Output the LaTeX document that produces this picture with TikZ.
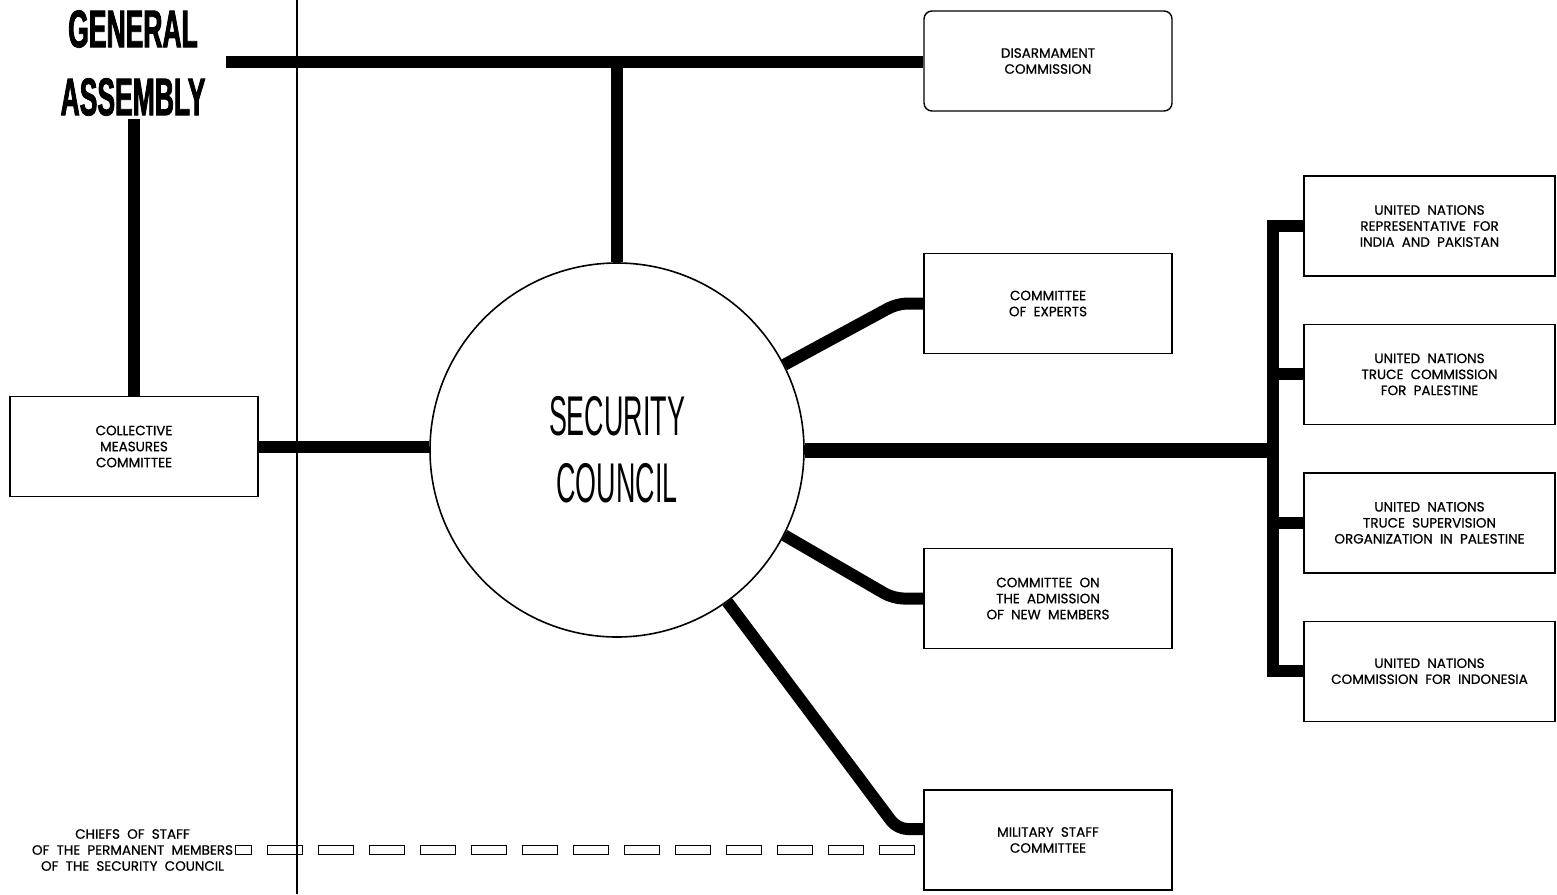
\documentclass[tikz,border=0pt]{standalone}
\usepackage{fontspec}
\setmainfont{Poppins}[FakeBold=0.7]
\newfontfamily\titlefont{Liberation Sans}[UprightFont=* Bold,FakeStretch=0.5,FakeBold=1.5]
\newfontfamily\councilfont{Liberation Sans}[FakeStretch=0.48]
\usetikzlibrary{positioning}
\tikzset{
    unit/.style={draw,line width=1.4pt,minimum width=248pt,minimum height=100pt,align=center,inner sep=2pt,font=\fontsize{13.5}{16}\selectfont},
    unitwide/.style={unit,minimum width=251pt},
    link/.style={line width=12pt},
    trunk/.style={line width=15pt},
    divider/.style={line width=1.5pt},
    liaison/.style={line width=1.4pt,double=white,double distance=7.5pt,line cap=rect,dash pattern=on 26pt off 25pt,dash phase=19pt}
}

\begin{document}
\begin{tikzpicture}[x=1pt,y=-1pt]
    \useasboundingbox (0,0) rectangle (1557,894);

    \node[font=\titlefont\fontsize{53}{68}\selectfont,align=center] (ga) at (133,63) {GENERAL\\ASSEMBLY};
    \node[circle,draw,line width=1.6pt,minimum size=374pt,align=center,font=\councilfont\fontsize{56}{67}\selectfont] (council) at (617,450) {SECURITY\\COUNCIL};

    \node[unit] (collective) at (134,446.5) {COLLECTIVE\\MEASURES\\COMMITTEE};
    \node[unit,rounded corners=8pt] (disarm) at (1048,61) {DISARMAMENT\\COMMISSION};
    \node[unit] (experts) at (1048,303.5) {COMMITTEE\\OF\ \ EXPERTS};
    \node[unit] (admission) at (1048,598.5) {COMMITTEE\ \ ON\\THE\ \ ADMISSION\\OF\ \ NEW\ \ MEMBERS};
    \node[unit] (military) at (1048,840) {MILITARY\ \ STAFF\\COMMITTEE};

    \node[unitwide] (un1) at (1429.5,226) {UNITED\ \ NATIONS\\REPRESENTATIVE\ \ FOR\\INDIA\ \ AND\ \ PAKISTAN};
    \node[unitwide] (un2) [below=47pt of un1] {UNITED\ \ NATIONS\\TRUCE\ \ COMMISSION\\FOR\ \ PALESTINE};
    \node[unitwide] (un3) [below=47pt of un2] {UNITED\ \ NATIONS\\TRUCE\ \ SUPERVISION\\ORGANIZATION\ \ IN\ \ PALESTINE};
    \node[unitwide] (un4) [below=47pt of un3] {UNITED\ \ NATIONS\\COMMISSION\ \ FOR\ \ INDONESIA};

    \node[align=center,anchor=east,inner sep=2pt,outer sep=5pt,font=\fontsize{13.5}{16}\selectfont] (chiefs) at (240,850) {CHIEFS\ \ OF\ \ STAFF\\OF\ \ THE\ \ PERMANENT\ \ MEMBERS\\OF\ \ THE\ \ SECURITY\ \ COUNCIL};

    \coordinate (galine) at (226,62);
    \coordinate (bus) at (1273,450);

    \draw[link] (galine) -- (galine -| disarm.west);
    \draw[link] (council.north) -- (council.north |- galine);
    \draw[link] (collective.north) -- (collective.north |- ga.south);
    \draw[link] (collective.east) -- (collective.east -| council.west);

    \draw[link,rounded corners=10pt] (council.27) -- ([xshift=-26pt]experts.west) -- (experts.west);
    \draw[link,rounded corners=10pt] (council.-27) -- ([xshift=-30pt]admission.west) -- (admission.west);
    \draw[link,rounded corners=10pt] (council.-54) -- ([xshift=-26pt,yshift=11pt]military.west) -- ([yshift=11pt]military.west);

    \draw[trunk] (council.east) -- (bus);
    \draw[link,line join=miter] (un1.west) -- (un1.west -| bus) -- (un4.west -| bus) -- (un4.west);
    \draw[link] (un2.west) -- (un2.west -| bus);
    \draw[link] (un3.west) -- (un3.west -| bus);

    \draw[liaison] (chiefs.east) -- (chiefs.east -| military.west);

    \draw[divider] (297,0) -- (297,894);
\end{tikzpicture}
\end{document}
